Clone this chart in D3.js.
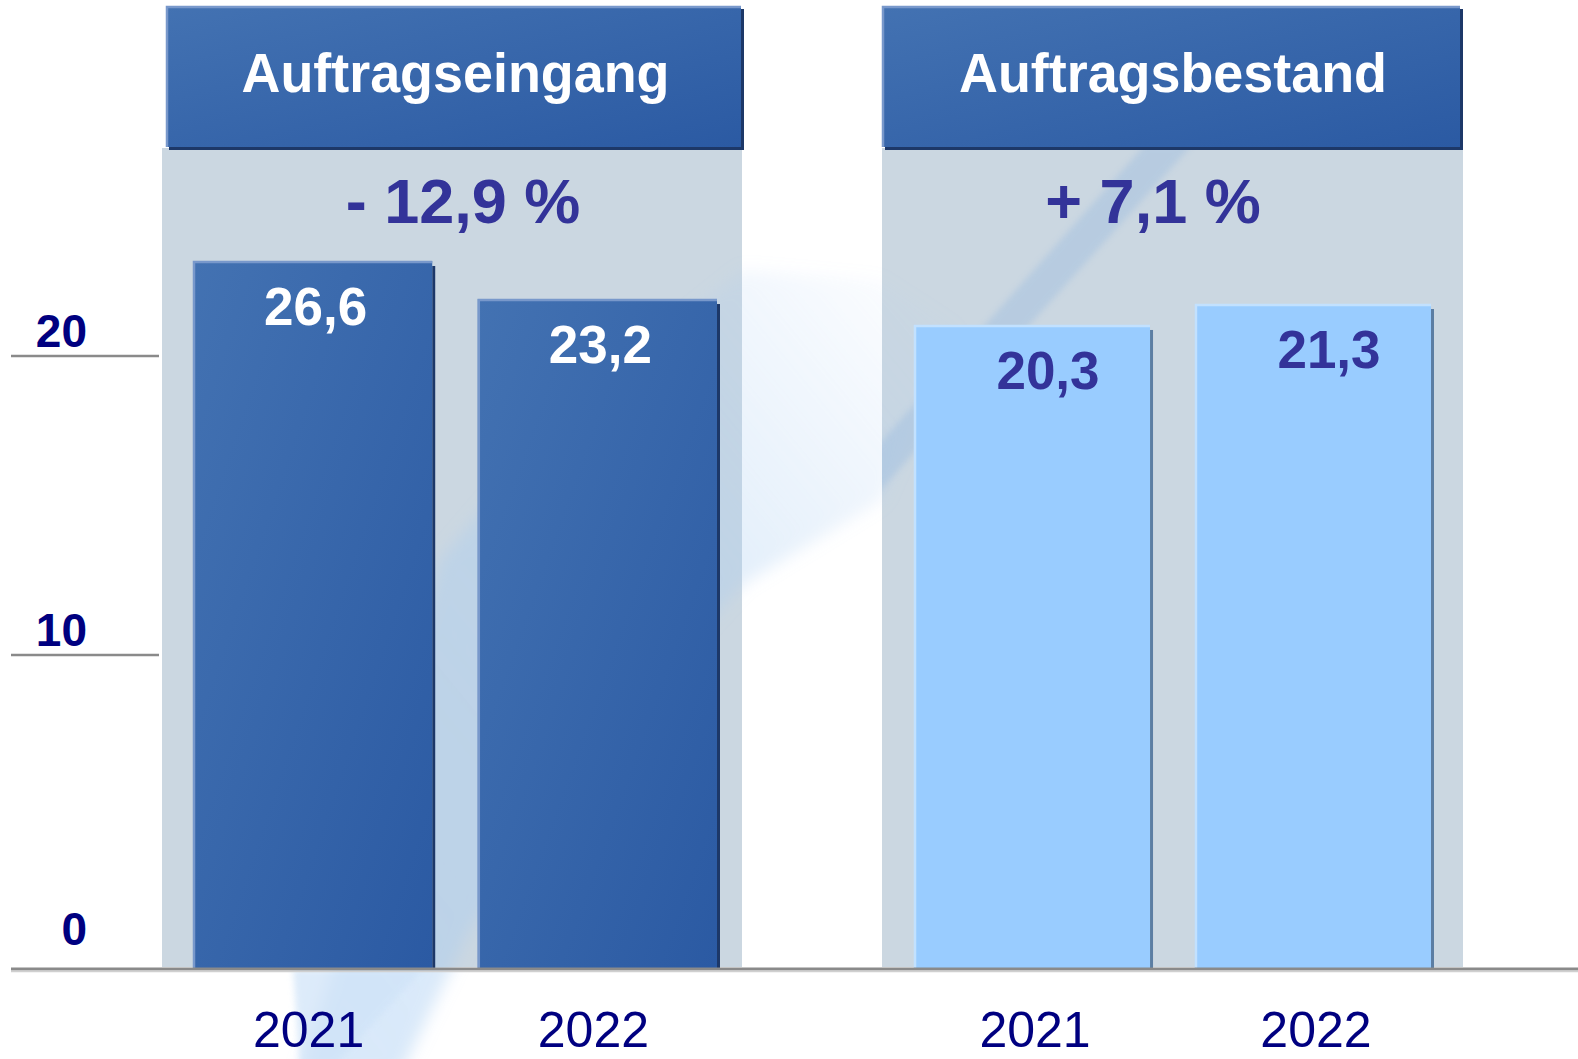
<!DOCTYPE html>
<html>
<head>
<meta charset="utf-8">
<script src="https://cdn.jsdelivr.net/npm/d3@7"></script>
<style>
  body { margin: 0; background: #fff; }
  svg text { font-family: "Liberation Sans", Arial, sans-serif; }
</style>
</head>
<body>
<script>
// chart data
const panels = ["Auftragseingang", "Auftragsbestand"];
const years = ["2021", "2022"];
const auftragseingang = [26.6, 23.2];
const auftragsbestand = [20.3, 21.3];
const changes = ["- 12,9 %", "+ 7,1 %"];
const yTicks = [0, 10, 20];

const width = 1578, height = 1059;
const baseY = 969;
const fmt = v => d3.format(".1f")(v).replace(".", ",");

// panel layout (the original bars use a cut-off scale per panel)
const layout = [
  {x0: 162, x1: 742, hx: 166, hw: 575, bars: [193, 717], lo: -36.7, top: 261,
   values: auftragseingang, dark: true, pctX: 463, labelDx: 3, yearDx: -4},
  {x0: 882, x1: 1463, hx: 882, hw: 578, bars: [914, 1431], lo: -10.4, top: 304,
   values: auftragsbestand, dark: false, pctX: 1153, labelDx: 16, yearDx: 3}
];

const svg = d3.select("body")
  .append("svg")
  .attr("width", width)
  .attr("height", height);

const defs = svg.append("defs");
const grad = defs.append("linearGradient")
  .attr("id", "darkBlue")
  .attr("x1", 0).attr("y1", 0).attr("x2", 1).attr("y2", 1);
grad.append("stop").attr("offset", "0%").attr("stop-color", "#4372b2");
grad.append("stop").attr("offset", "100%").attr("stop-color", "#2b5aa3");

const wedgeGrad = defs.append("linearGradient")
  .attr("id", "wedge")
  .attr("x1", 0).attr("y1", 1).attr("x2", 1).attr("y2", 0);
wedgeGrad.append("stop").attr("offset", "0%").attr("stop-color", "#a8cdf2").attr("stop-opacity", 0.45);
wedgeGrad.append("stop").attr("offset", "60%").attr("stop-color", "#a8cdf2").attr("stop-opacity", 0.35);
wedgeGrad.append("stop").attr("offset", "100%").attr("stop-color", "#a8cdf2").attr("stop-opacity", 0);

defs.append("filter").attr("id", "blur8")
  .attr("x", "-20%").attr("y", "-20%").attr("width", "140%").attr("height", "140%")
  .append("feGaussianBlur").attr("stdDeviation", 8);
defs.append("filter").attr("id", "blur3")
  .append("feGaussianBlur").attr("stdDeviation", 3);
defs.append("clipPath").attr("id", "rightPanel")
  .append("rect")
  .attr("x", layout[1].x0).attr("y", 148)
  .attr("width", layout[1].x1 - layout[1].x0).attr("height", 967 - 148);

svg.append("rect").attr("width", width).attr("height", height).attr("fill", "#fff");

// panel backgrounds
svg.selectAll(".panel")
  .data(layout)
  .join("rect")
  .attr("class", "panel")
  .attr("x", d => d.x0)
  .attr("y", 148)
  .attr("width", d => d.x1 - d.x0)
  .attr("height", 967 - 148)
  .attr("fill", "#cbd7e1");

// background swoosh
svg.append("path")
  .attr("d", "M300,1075 L360,880 L440,560 L560,420 L742,270 L880,280 L960,330 L882,500 L742,585 L600,740 L470,930 L400,1075 Z")
  .attr("fill", "url(#wedge)")
  .attr("filter", "url(#blur8)");
svg.append("path")
  .attr("d", "M293,969 L423,969 L335,1065 L300,1065 Z")
  .attr("fill", "#cfe3f8")
  .attr("opacity", 0.7)
  .attr("filter", "url(#blur3)");
svg.append("g")
  .attr("clip-path", "url(#rightPanel)")
  .append("path")
  .attr("d", "M318,1075 L1145,145 L1192,145 L352,1075 Z")
  .attr("fill", "#8fb5e0")
  .attr("opacity", 0.33)
  .attr("filter", "url(#blur3)");

// y axis (ticks at 10 and 20, zero sits on the base line)
const y = d3.scaleLinear().domain([0, 20]).range([954, 356]);
svg.selectAll(".tickline")
  .data(yTicks.filter(t => t > 0))
  .join("line")
  .attr("class", "tickline")
  .attr("x1", 11).attr("x2", 159)
  .attr("y1", d => y(d)).attr("y2", d => y(d))
  .attr("stroke", "#8a8a8a")
  .attr("stroke-width", 2.5);
svg.selectAll(".ticklabel")
  .data(yTicks)
  .join("text")
  .attr("class", "ticklabel")
  .attr("x", 87)
  .attr("y", d => y(d) - 9)
  .attr("text-anchor", "end")
  .attr("font-size", 46)
  .attr("font-weight", "bold")
  .attr("fill", "#000080")
  .text(d => d);

layout.forEach((p, i) => {
  const g = svg.append("g");
  const x = d3.scaleBand().domain(years).range(p.bars).paddingInner(0.16);
  const yb = d3.scaleLinear().domain([p.lo, d3.max(p.values)]).range([baseY, p.top]);
  const rows = years.map((yr, j) => ({year: yr, value: p.values[j]}));

  const fill = p.dark ? "url(#darkBlue)" : "#99ccff";
  const light = p.dark ? "#7898cb" : "#c2e1ff";
  const shade = p.dark ? "#1d3868" : "#5c7ea3";

  // header
  g.append("rect")
    .attr("x", p.hx + 3).attr("y", 9)
    .attr("width", p.hw).attr("height", 141)
    .attr("fill", "#1d3868");
  g.append("rect")
    .attr("x", p.hx).attr("y", 6)
    .attr("width", p.hw).attr("height", 141)
    .attr("fill", "url(#darkBlue)");
  g.append("path")
    .attr("d", `M${p.hx + 1},147 V7 H${p.hx + p.hw}`)
    .attr("fill", "none")
    .attr("stroke", "#7898cb")
    .attr("stroke-width", 2.5);
  g.append("text")
    .attr("x", p.hx + p.hw / 2 + 2)
    .attr("y", 92)
    .attr("text-anchor", "middle")
    .attr("font-size", 56)
    .attr("font-weight", "bold")
    .attr("fill", "#fff")
    .attr("textLength", 428)
    .attr("lengthAdjust", "spacingAndGlyphs")
    .text(panels[i]);

  // change in percent
  g.append("text")
    .attr("x", p.pctX)
    .attr("y", 223)
    .attr("text-anchor", "middle")
    .attr("font-size", 63)
    .attr("font-weight", "bold")
    .attr("fill", "#333399")
    .text(changes[i]);

  // bars
  g.selectAll(".shadow")
    .data(rows)
    .join("rect")
    .attr("class", "shadow")
    .attr("x", d => x(d.year) + x.bandwidth())
    .attr("y", d => yb(d.value) + 5)
    .attr("width", 3)
    .attr("height", d => baseY - yb(d.value) - 5)
    .attr("fill", shade);
  g.selectAll(".bar")
    .data(rows)
    .join("rect")
    .attr("class", "bar")
    .attr("x", d => x(d.year))
    .attr("y", d => yb(d.value))
    .attr("width", x.bandwidth())
    .attr("height", d => baseY - yb(d.value))
    .attr("fill", fill);
  g.selectAll(".edge")
    .data(rows)
    .join("path")
    .attr("class", "edge")
    .attr("d", d => `M${x(d.year) + 1},${baseY} V${yb(d.value) + 1} H${x(d.year) + x.bandwidth()}`)
    .attr("fill", "none")
    .attr("stroke", light)
    .attr("stroke-width", 2.5);

  g.selectAll(".value")
    .data(rows)
    .join("text")
    .attr("class", "value")
    .attr("x", d => x(d.year) + x.bandwidth() / 2 + p.labelDx)
    .attr("y", d => yb(d.value) + 64)
    .attr("text-anchor", "middle")
    .attr("font-size", 53)
    .attr("font-weight", "bold")
    .attr("fill", p.dark ? "#fff" : "#333399")
    .text(d => fmt(d.value));

  g.selectAll(".year")
    .data(rows)
    .join("text")
    .attr("class", "year")
    .attr("x", d => x(d.year) + x.bandwidth() / 2 + p.yearDx)
    .attr("y", 1047)
    .attr("text-anchor", "middle")
    .attr("font-size", 50)
    .attr("fill", "#000080")
    .text(d => d.year);
});

// base line
svg.append("line")
  .attr("x1", 11).attr("x2", width)
  .attr("y1", baseY).attr("y2", baseY)
  .attr("stroke", "#8a8a8a")
  .attr("stroke-width", 3);
svg.append("line")
  .attr("x1", 11).attr("x2", width)
  .attr("y1", baseY + 2.5).attr("y2", baseY + 2.5)
  .attr("stroke", "#d0d0d0")
  .attr("stroke-width", 1.5);
</script>
</body>
</html>
